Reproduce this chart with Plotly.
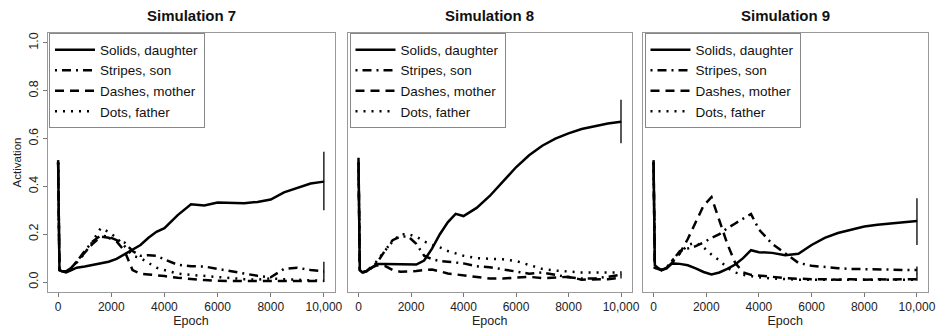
import plotly.graph_objects as go

# ---------------- data ----------------
epochs = [0, 50, 150, 300, 500, 700, 1000, 1300, 1600, 1900, 2200, 2500, 2800, 3100,
          3400, 3700, 4000, 4500, 5000, 5500, 6000, 6500, 7000, 7500, 8000, 8500,
          9000, 9500, 10000]

series_names = ["Solids, daughter", "Stripes, son", "Dashes, mother", "Dots, father"]
panel_titles = ["Simulation 7", "Simulation 8", "Simulation 9"]

sim7_daughter = [0.51, 0.05, 0.045, 0.04, 0.05, 0.06, 0.065, 0.072, 0.078, 0.085, 0.097, 0.116,
                 0.135, 0.155, 0.185, 0.21, 0.225, 0.28, 0.325, 0.32, 0.333, 0.33, 0.33, 0.335,
                 0.345, 0.375, 0.395, 0.412, 0.42]
sim7_son = [0.5, 0.05, 0.045, 0.045, 0.06, 0.085, 0.13, 0.17, 0.195, 0.19, 0.175, 0.165, 0.13,
            0.11, 0.112, 0.11, 0.095, 0.072, 0.066, 0.065, 0.055, 0.045, 0.035, 0.026, 0.02,
            0.055, 0.06, 0.05, 0.045]
sim7_mother = [0.5, 0.05, 0.045, 0.045, 0.06, 0.085, 0.12, 0.16, 0.19, 0.185, 0.17, 0.13, 0.05,
               0.035, 0.032, 0.03, 0.025, 0.018, 0.012, 0.008, 0.005, 0.004, 0.004, 0.004, 0.004,
               0.004, 0.004, 0.004, 0.004]
sim7_father = [0.5, 0.05, 0.045, 0.045, 0.055, 0.08, 0.12, 0.17, 0.225, 0.21, 0.185, 0.15, 0.11,
               0.1, 0.08, 0.06, 0.05, 0.035, 0.03, 0.025, 0.02, 0.015, 0.012, 0.01, 0.015, 0.012,
               0.01, 0.005, 0.005]

sim8_daughter = [0.52, 0.05, 0.04, 0.045, 0.06, 0.075, 0.075, 0.075, 0.075, 0.073, 0.073, 0.09,
                 0.14, 0.2, 0.25, 0.285, 0.276, 0.31, 0.36, 0.42, 0.48, 0.53, 0.57, 0.6, 0.622,
                 0.64, 0.653, 0.663, 0.67]
sim8_son = [0.5, 0.05, 0.04, 0.045, 0.065, 0.08, 0.13, 0.175, 0.19, 0.19, 0.16, 0.11, 0.095,
            0.088, 0.085, 0.082, 0.078, 0.066, 0.062, 0.053, 0.045, 0.035, 0.04, 0.03, 0.02,
            0.015, 0.015, 0.022, 0.03]
sim8_mother = [0.5, 0.05, 0.04, 0.045, 0.06, 0.07, 0.068, 0.05, 0.043, 0.043, 0.046, 0.05, 0.052,
               0.045, 0.036, 0.032, 0.028, 0.02, 0.015, 0.015, 0.018, 0.022, 0.016, 0.02, 0.022,
               0.01, 0.01, 0.012, 0.018]
sim8_father = [0.5, 0.05, 0.04, 0.045, 0.06, 0.09, 0.13, 0.17, 0.2, 0.2, 0.19, 0.17, 0.155, 0.145,
               0.13, 0.12, 0.11, 0.1, 0.098, 0.095, 0.088, 0.07, 0.055, 0.048, 0.044, 0.04, 0.04,
               0.04, 0.04]

sim9_daughter = [0.51, 0.07, 0.06, 0.05, 0.057, 0.078, 0.076, 0.07, 0.057, 0.042, 0.032, 0.04,
                 0.055, 0.073, 0.1, 0.133, 0.125, 0.122, 0.112, 0.118, 0.155, 0.185, 0.205, 0.22,
                 0.232, 0.24, 0.246, 0.251, 0.255]
sim9_son = [0.5, 0.06, 0.055, 0.05, 0.06, 0.09, 0.13, 0.14, 0.15, 0.165, 0.185, 0.2, 0.225, 0.245,
            0.265, 0.285, 0.22, 0.16, 0.12, 0.08, 0.068, 0.062, 0.058, 0.055, 0.055, 0.054, 0.052,
            0.05, 0.05]
sim9_mother = [0.5, 0.06, 0.055, 0.05, 0.06, 0.08, 0.12, 0.18, 0.25, 0.32, 0.355, 0.26, 0.16, 0.08,
               0.04, 0.03, 0.026, 0.022, 0.016, 0.013, 0.012, 0.012, 0.01, 0.012, 0.01, 0.012,
               0.01, 0.012, 0.012]
sim9_father = [0.5, 0.06, 0.05, 0.05, 0.06, 0.09, 0.12, 0.155, 0.165, 0.145, 0.115, 0.09, 0.06,
               0.04, 0.03, 0.025, 0.02, 0.015, 0.012, 0.01, 0.01, 0.01, 0.01, 0.01, 0.01, 0.01,
               0.01, 0.01, 0.01]

# error bars at the final epoch: [daughter, son]
err_epoch = [10000, 10000]
sim7_err_center = [0.42, 0.042]
sim7_err_plus = [0.125, 0.043]
sim7_err_minus = [0.12, 0.042]
sim8_err_center = [0.67, 0.03]
sim8_err_plus = [0.092, 0.015]
sim8_err_minus = [0.09, 0.015]
sim9_err_center = [0.255, 0.035]
sim9_err_plus = [0.095, 0.03]
sim9_err_minus = [0.1, 0.03]

x_tickvals = [0, 2000, 4000, 6000, 8000, 10000]
x_ticktext = ["0", "2000", "4000", "6000", "8000", "10,000"]
y_tickvals = [0.0, 0.2, 0.4, 0.6, 0.8, 1.0]
y_ticktext = ["0.0", "0.2", "0.4", "0.6", "0.8", "1.0"]

# ---------------- figure ----------------
W, H = 936, 332
FONT = "Liberation Sans, Arial, Helvetica, sans-serif"
dashes = ["solid", "2px,5px,9px,5px", "9px,6px", "2px,6px"]

panels = [
    (sim7_daughter, sim7_son, sim7_mother, sim7_father, sim7_err_center, sim7_err_plus, sim7_err_minus),
    (sim8_daughter, sim8_son, sim8_mother, sim8_father, sim8_err_center, sim8_err_plus, sim8_err_minus),
    (sim9_daughter, sim9_son, sim9_mother, sim9_father, sim9_err_center, sim9_err_plus, sim9_err_minus),
]

# plot boxes in pixels (left, right)
boxes_px = [(47.5, 334.5), (348, 631.5), (643, 927.5)]
box_top_px, box_bot_px = 33.4, 291.6

fig = go.Figure()
layout = {}
for i, p in enumerate(panels):
    sfx = "" if i == 0 else str(i + 1)
    xa, ya = "x" + sfx, "y" + sfx
    lg = "legend" + sfx
    for j in range(4):
        fig.add_trace(go.Scatter(
            x=epochs, y=p[j], mode="lines", name=series_names[j],
            line=dict(color="black", width=2.5, dash=dashes[j]),
            xaxis=xa, yaxis=ya, legend=lg, showlegend=True))
    fig.add_trace(go.Scatter(
        x=err_epoch, y=p[4], mode="markers", marker=dict(size=1, color="black"),
        error_y=dict(type="data", array=p[5], arrayminus=p[6], width=0,
                     thickness=1.3, color="black"),
        xaxis=xa, yaxis=ya, showlegend=False, hoverinfo="skip"))

    l, r = boxes_px[i]
    layout["xaxis" + sfx] = dict(
        domain=[l / W, r / W], range=[-400, 10400], anchor=ya, automargin=False,
        tickvals=x_tickvals, ticktext=x_ticktext, ticks="outside", ticklen=4,
        tickcolor="#777", showline=True, linecolor="#999", linewidth=1, mirror=True,
        showgrid=False, zeroline=False, ticklabeloverflow="allow",
        tickfont=dict(family=FONT, size=12, color="#222"),
        title=dict(text="Epoch", font=dict(family=FONT, size=12.5, color="#222"), standoff=3))
    layout["yaxis" + sfx] = dict(
        domain=[(H - box_bot_px) / H, (H - box_top_px) / H], range=[-0.04, 1.04], anchor=xa,
        automargin=False,
        tickvals=y_tickvals if i == 0 else [], ticktext=y_ticktext if i == 0 else [],
        ticks="outside" if i == 0 else "", ticklen=4, tickcolor="#777", tickangle=-90,
        showline=True, linecolor="#999", linewidth=1, mirror=True,
        showgrid=False, zeroline=False,
        tickfont=dict(family=FONT, size=12.5, color="#222"),
        title=dict(text="Activation" if i == 0 else "", font=dict(family=FONT, size=11.5, color="#222"),
                   standoff=2))
    layout[lg] = dict(
        x=(l + 1.5) / W, y=(H - box_top_px) / H, xanchor="left", yanchor="top",
        bgcolor="white", bordercolor="#888", borderwidth=1,
        font=dict(family=FONT, size=13.5, color="#111"), itemwidth=40,
        tracegroupgap=0)

annotations = []
for i, t in enumerate(panel_titles):
    l, r = boxes_px[i]
    annotations.append(dict(
        text="<b>" + t + "</b>", x=(l + r) / 2 / W, y=(H - 15) / H, xref="paper", yref="paper",
        showarrow=False, xanchor="center", yanchor="middle",
        font=dict(family=FONT, size=15, color="#111")))

fig.update_layout(
    width=W, height=H, margin=dict(l=0, r=0, t=0, b=0),
    paper_bgcolor="white", plot_bgcolor="white",
    annotations=annotations, **layout)

fig.write_html("out.html", config={"displayModeBar": False},
               post_script="document.body.style.margin='0';document.body.style.overflow='hidden';")
